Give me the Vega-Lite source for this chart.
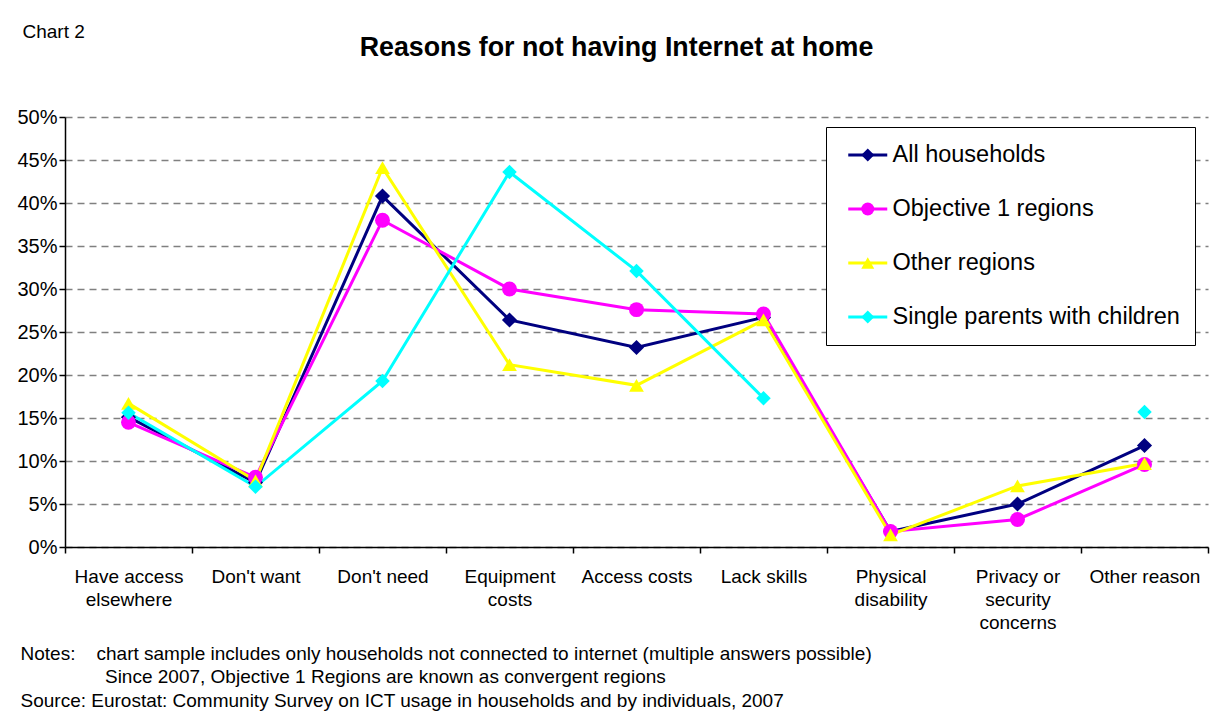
{
  "$schema": "https://vega.github.io/schema/vega-lite/v6.json",
  "autosize": "none",
  "width": 1143,
  "height": 430,
  "padding": {"left": 65, "top": 117, "right": 2, "bottom": 177},
  "background": "white",
  "config": {
    "font": "Liberation Sans",
    "view": {"stroke": null},
    "legend": {
      "orient": "none",
      "legendX": 761,
      "legendY": 10,
      "direction": "vertical",
      "title": null,
      "padding": 15,
      "rowPadding": 28,
      "clipHeight": 26,
      "symbolSize": 169,
      "symbolOffset": 15,
      "symbolStrokeWidth": 3,
      "labelOffset": 13,
      "labelFontSize": 23.5,
      "labelColor": "black",
      "labelLimit": 0
    }
  },
  "title": {
    "text": "Reasons for not having Internet at home",
    "fontSize": 26.8,
    "fontWeight": "bold",
    "color": "black",
    "anchor": "middle",
    "baseline": "alphabetic",
    "dx": -20,
    "offset": -61
  },
  "data": {
    "values": [
      {"reason": "Have access elsewhere", "series": "All households", "value": 15.1},
      {"reason": "Don't want", "series": "All households", "value": 7.5},
      {"reason": "Don't need", "series": "All households", "value": 40.8},
      {"reason": "Equipment costs", "series": "All households", "value": 26.4},
      {"reason": "Access costs", "series": "All households", "value": 23.2},
      {"reason": "Lack skills", "series": "All households", "value": 26.7},
      {"reason": "Physical disability", "series": "All households", "value": 1.8},
      {"reason": "Privacy or security concerns", "series": "All households", "value": 5.0},
      {"reason": "Other reason", "series": "All households", "value": 11.8},
      {"reason": "Have access elsewhere", "series": "Objective 1 regions", "value": 14.5},
      {"reason": "Don't want", "series": "Objective 1 regions", "value": 8.1},
      {"reason": "Don't need", "series": "Objective 1 regions", "value": 38.0},
      {"reason": "Equipment costs", "series": "Objective 1 regions", "value": 30.0},
      {"reason": "Access costs", "series": "Objective 1 regions", "value": 27.6},
      {"reason": "Lack skills", "series": "Objective 1 regions", "value": 27.1},
      {"reason": "Physical disability", "series": "Objective 1 regions", "value": 1.8},
      {"reason": "Privacy or security concerns", "series": "Objective 1 regions", "value": 3.2},
      {"reason": "Other reason", "series": "Objective 1 regions", "value": 9.6},
      {"reason": "Have access elsewhere", "series": "Other regions", "value": 16.7},
      {"reason": "Don't want", "series": "Other regions", "value": 7.7},
      {"reason": "Don't need", "series": "Other regions", "value": 44.1},
      {"reason": "Equipment costs", "series": "Other regions", "value": 21.2},
      {"reason": "Access costs", "series": "Other regions", "value": 18.8},
      {"reason": "Lack skills", "series": "Other regions", "value": 26.4},
      {"reason": "Physical disability", "series": "Other regions", "value": 1.4},
      {"reason": "Privacy or security concerns", "series": "Other regions", "value": 7.1},
      {"reason": "Other reason", "series": "Other regions", "value": 9.7},
      {"reason": "Have access elsewhere", "series": "Single parents with children", "value": 15.6},
      {"reason": "Don't want", "series": "Single parents with children", "value": 7.0},
      {"reason": "Don't need", "series": "Single parents with children", "value": 19.3},
      {"reason": "Equipment costs", "series": "Single parents with children", "value": 43.6},
      {"reason": "Access costs", "series": "Single parents with children", "value": 32.1},
      {"reason": "Lack skills", "series": "Single parents with children", "value": 17.3},
      {"reason": "Physical disability", "series": "Single parents with children", "value": null},
      {"reason": "Privacy or security concerns", "series": "Single parents with children", "value": null},
      {"reason": "Other reason", "series": "Single parents with children", "value": 15.7}
    ]
  },
  "encoding": {
    "x": {
      "field": "reason",
      "type": "nominal",
      "sort": ["Have access elsewhere", "Don't want", "Don't need", "Equipment costs", "Access costs", "Lack skills", "Physical disability", "Privacy or security concerns", "Other reason"],
      "scale": {"type": "band", "paddingInner": 0, "paddingOuter": 0},
      "axis": {
        "title": ["Notes:\u00a0\u00a0\u00a0\u00a0chart sample includes only households not connected to internet (multiple answers possible)", "\u200b\u00a0\u00a0\u00a0\u00a0\u00a0\u00a0\u00a0\u00a0\u00a0\u00a0\u00a0\u00a0\u00a0\u00a0\u00a0\u00a0Since 2007, Objective 1 Regions are known as convergent regions", "Source: Eurostat: Community Survey on ICT usage in households and by individuals, 2007"],
        "titleX": -45,
        "titleY": 112,
        "titleAlign": "left",
        "titleAnchor": "start",
        "titleBaseline": "alphabetic",
        "titleFontSize": 19,
        "titleFontWeight": "normal",
        "titleColor": "black",
        "titleLineHeight": 23.5,
        "labelAngle": 0,
        "labelFontSize": 19,
        "labelColor": "black",
        "labelLineHeight": 23,
        "labelPadding": 14,
        "labelBaseline": "top",
        "labelLimit": 0,
        "labelExpr": "datum.value == 'Have access elsewhere' ? ['Have access', 'elsewhere'] : datum.value == 'Equipment costs' ? ['Equipment', 'costs'] : datum.value == 'Physical disability' ? ['Physical', 'disability'] : datum.value == 'Privacy or security concerns' ? ['Privacy or', 'security', 'concerns'] : datum.value",
        "tickBand": "extent",
        "tickSize": 6,
        "tickColor": "black",
        "tickWidth": 1.5,
        "domainColor": "black",
        "domainWidth": 1.5,
        "grid": false
      }
    },
    "y": {
      "field": "value",
      "type": "quantitative",
      "scale": {"domain": [0, 50], "nice": false},
      "axis": {
        "title": "Chart 2",
        "titleAngle": 0,
        "titleX": -43,
        "titleY": -80,
        "titleAlign": "left",
        "titleBaseline": "alphabetic",
        "titleFontSize": 19,
        "titleFontWeight": "normal",
        "titleColor": "black",
        "values": [0, 5, 10, 15, 20, 25, 30, 35, 40, 45, 50],
        "labelExpr": "datum.value + '%'",
        "labelFontSize": 20,
        "labelColor": "black",
        "labelPadding": 2,
        "tickSize": 6,
        "tickColor": "black",
        "tickWidth": 1.5,
        "domainColor": "black",
        "domainWidth": 1.5,
        "grid": true,
        "gridColor": "#808080",
        "gridDash": [7, 5],
        "gridWidth": 1.3
      }
    }
  },
  "layer": [
    {
      "mark": {"type": "line", "strokeWidth": 3, "invalid": "break-paths-filter-domains"},
      "encoding": {
        "stroke": {
          "field": "series",
          "type": "nominal",
          "scale": {"range": ["#000080", "#FF00FF", "#FFFF00", "#00FFFF"]},
          "legend": {
            "symbolType": "M-3,0H3",
            "strokeColor": "black",
            "fillColor": "white"
          }
        }
      }
    },
    {
      "mark": {"type": "point", "filled": true, "opacity": 1},
      "encoding": {
        "fill": {
          "field": "series",
          "type": "nominal",
          "scale": {
            "domain": ["All households", "Objective 1 regions", "Other regions", "Single parents with children"],
            "range": ["#000080", "#FF00FF", "#FFFF00", "#00FFFF"]
          },
          "legend": {"symbolOpacity": 1, "labelColor": "transparent"}
        },
        "shape": {
          "field": "series",
          "type": "nominal",
          "scale": {
            "domain": ["All households", "Objective 1 regions", "Other regions", "Single parents with children"],
            "range": ["diamond", "circle", "triangle-up", "diamond"]
          },
          "legend": {"symbolOpacity": 1, "labelColor": "transparent"}
        },
        "size": {
          "field": "series",
          "type": "nominal",
          "scale": {
            "domain": ["Single parents with children", "Other regions", "Objective 1 regions", "All households"],
            "range": [210, 230, 200, 190]
          },
          "legend": null
        }
      }
    }
  ]
}
